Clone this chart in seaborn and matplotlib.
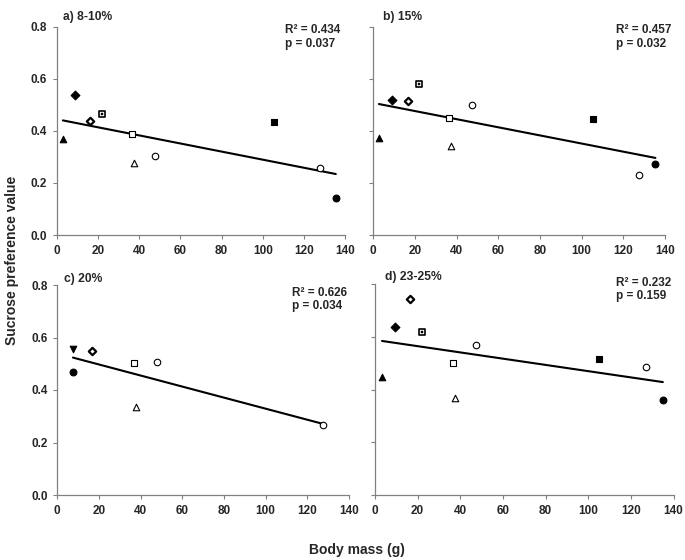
import numpy as np
import pandas as pd
import matplotlib
matplotlib.use("Agg")
import matplotlib.pyplot as plt
import seaborn as sns

# Data (body mass in g, sucrose preference value)
# species codes: marker type used for each animal in the original figure
mass_a = [3.0, 9.0, 16.3, 21.8, 36.6, 37.5, 47.7, 105.3, 127.5, 135.4]
pref_a = [0.367, 0.537, 0.438, 0.464, 0.388, 0.276, 0.304, 0.433, 0.258, 0.143]
sp_a = ["tri_f", "dia_f", "dia_o", "sq_dot", "sq_o", "tri_o", "cir_o", "sq_f", "cir_o", "cir_f"]

mass_b = [2.7, 9.0, 16.5, 21.8, 36.5, 37.3, 47.5, 105.3, 127.4, 135.4]
pref_b = [0.373, 0.520, 0.516, 0.580, 0.450, 0.340, 0.500, 0.446, 0.232, 0.274]
sp_b = ["tri_f", "dia_f", "dia_o", "sq_dot", "sq_o", "tri_o", "cir_o", "sq_f", "cir_o", "cir_f"]

mass_c = [7.5, 7.7, 16.6, 37.0, 37.8, 47.8, 127.4]
pref_c = [0.556, 0.469, 0.547, 0.501, 0.337, 0.505, 0.267]
sp_c = ["tri_d", "cir_f", "dia_o", "sq_o", "tri_o", "cir_o", "cir_o"]

mass_d = [3.3, 9.2, 16.4, 21.9, 36.7, 37.5, 47.6, 104.9, 127.0, 135.0]
pref_d = [0.448, 0.637, 0.742, 0.618, 0.500, 0.366, 0.569, 0.514, 0.487, 0.360]
sp_d = ["tri_f", "dia_f", "dia_o", "sq_dot", "sq_o", "tri_o", "cir_o", "sq_f", "cir_o", "cir_f"]

panel_titles = ["a) 8-10%", "b) 15%", "c) 20%", "d) 23-25%"]
r2_values = ["0.434", "0.457", "0.626", "0.232"]
p_values = ["0.037", "0.032", "0.034", "0.159"]

# marker styles per species code
styles = {
    "tri_f": dict(marker="^", facecolor="black", s=22, lw=0.8),
    "tri_d": dict(marker="v", facecolor="black", s=22, lw=0.8),
    "tri_o": dict(marker="^", facecolor="white", s=22, lw=0.8),
    "dia_f": dict(marker="D", facecolor="black", s=20, lw=0.8),
    "dia_o": dict(marker="D", facecolor="white", s=14, lw=1.6),
    "sq_f": dict(marker="s", facecolor="black", s=18, lw=0.8),
    "sq_o": dict(marker="s", facecolor="white", s=18, lw=0.8),
    "sq_dot": dict(marker="s", facecolor="white", s=18, lw=1.2),
    "cir_f": dict(marker="o", facecolor="black", s=24, lw=0.8),
    "cir_o": dict(marker="o", facecolor="white", s=22, lw=0.8),
}

sns.set_style("ticks")
plt.rcParams["font.family"] = ["Liberation Sans", "DejaVu Sans"]
plt.rcParams["font.weight"] = "bold"

W, H = 685, 560
fig = plt.figure(figsize=(W / 100, H / 100), dpi=100)


def px_axes(left, right, top, bottom):
    return fig.add_axes([left / W, 1 - bottom / H, (right - left) / W, (bottom - top) / H])


axes = [
    px_axes(56.7, 345.3, 26.7, 235),
    px_axes(373.3, 665, 26.7, 235),
    px_axes(57.3, 349, 285, 495),
    px_axes(375, 673.5, 284, 495),
]
data = [(mass_a, pref_a, sp_a), (mass_b, pref_b, sp_b),
        (mass_c, pref_c, sp_c), (mass_d, pref_d, sp_d)]

for i, (ax, (m, p, sp)) in enumerate(zip(axes, data)):
    df = pd.DataFrame({"mass": m, "pref": p, "sp": sp})
    # regression line over the data range
    sns.regplot(data=df, x="mass", y="pref", scatter=False, ci=None, truncate=True,
                color="black", line_kws=dict(lw=1.5), ax=ax)
    for code, grp in df.groupby("sp"):
        st = styles[code]
        sns.scatterplot(data=grp, x="mass", y="pref", marker=st["marker"], s=st["s"],
                        color=st["facecolor"], edgecolor="black", linewidth=st["lw"],
                        ax=ax, zorder=3)
        if code == "sq_dot":
            sns.scatterplot(data=grp, x="mass", y="pref", marker="s", s=3,
                            color="black", edgecolor="black", linewidth=0.3,
                            ax=ax, zorder=4)
    ax.set_xlim(0, 140)
    ax.set_ylim(0, 0.8)
    ax.set_xticks(np.arange(0, 141, 20))
    ax.set_yticks(np.arange(0, 0.81, 0.2))
    if i % 2 == 0:
        ax.set_yticklabels([f"{v:.1f}" for v in np.arange(0, 0.81, 0.2)])
    else:
        ax.set_yticklabels([])
    ax.set_xlabel("")
    ax.set_ylabel("")
    ax.tick_params(labelsize=8.5, length=3, width=0.8, color="#808080", pad=4)
    for lab in ax.get_xticklabels() + ax.get_yticklabels():
        lab.set_fontweight("bold")
    for side in ["left", "bottom"]:
        ax.spines[side].set_color("#808080")
        ax.spines[side].set_linewidth(0.9)
    sns.despine(ax=ax)

# panel labels and statistics
title_pos = [(63, 16.7), (383, 16.7), (64, 279), (385, 277)]
stat_pos = [(285, 30), (616, 30), (292, 293), (616, 283)]
for (tx, ty), t in zip(title_pos, panel_titles):
    fig.text(tx / W, 1 - ty / H, t, fontsize=8.7, fontweight="bold", va="center")
for (sx, sy), r2, pv in zip(stat_pos, r2_values, p_values):
    fig.text(sx / W, 1 - sy / H, f"R\u00b2 = {r2}", fontsize=8.5, fontweight="bold", va="center")
    fig.text(sx / W, 1 - (sy + 13.5) / H, f"p = {pv}", fontsize=8.5, fontweight="bold", va="center")

fig.text(12 / W, 1 - 260 / H, "Sucrose preference value", rotation=90,
         fontsize=10, fontweight="bold", ha="center", va="center")
fig.text(357 / W, 1 - 550 / H, "Body mass (g)", fontsize=10, fontweight="bold",
         ha="center", va="center")

fig.savefig("out.png", dpi=100)
